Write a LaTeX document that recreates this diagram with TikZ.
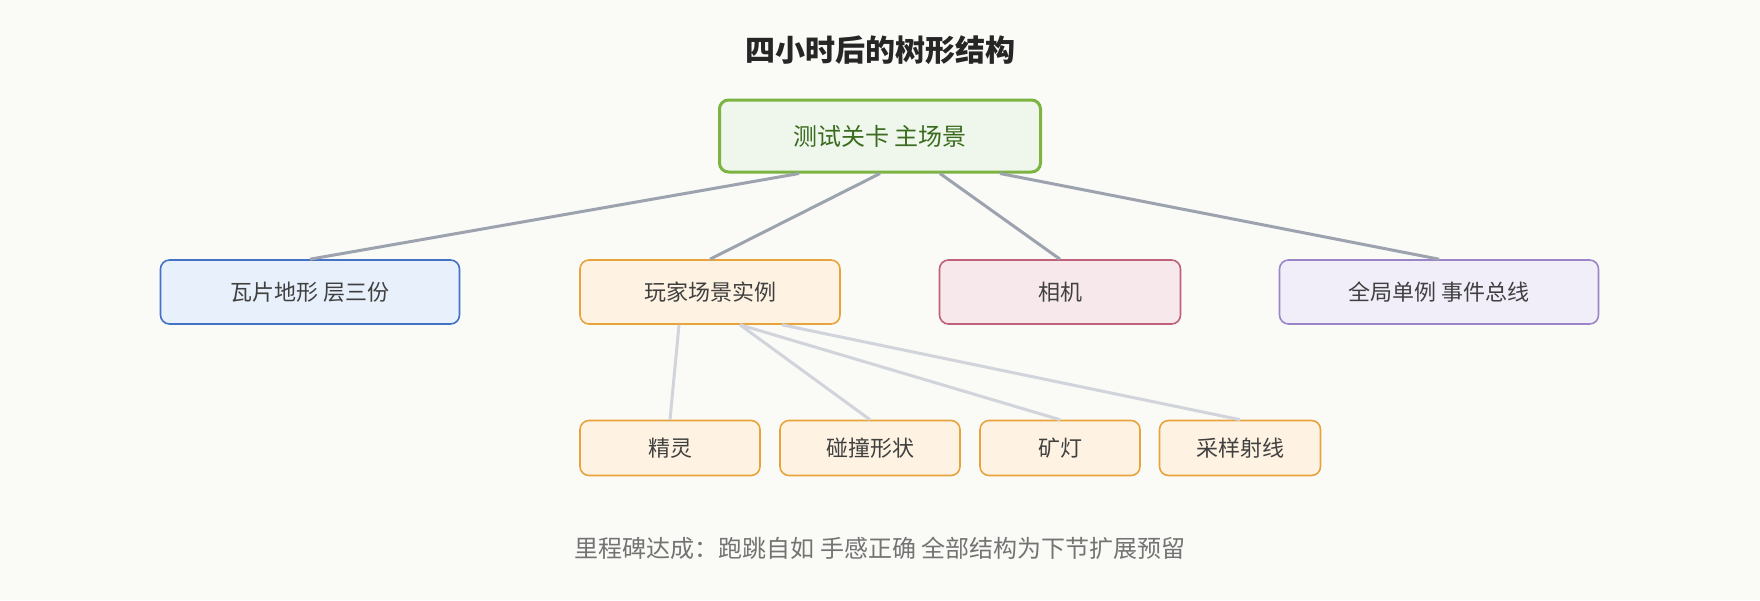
\documentclass[tikz,border=0pt]{standalone}
\usepackage{fontspec}
\setmainfont{Noto Sans CJK SC}
\usetikzlibrary{positioning, calc}
\definecolor{bg}{HTML}{FAFAF6}
\definecolor{edgeA}{HTML}{9CA3AF}
\definecolor{edgeB}{HTML}{D1D5DB}
\definecolor{greenD}{HTML}{7CB342}
\definecolor{greenF}{HTML}{EFF6EC}
\definecolor{greenT}{HTML}{3A6B1E}
\definecolor{blueD}{HTML}{4472C4}
\definecolor{blueF}{HTML}{E8F0FB}
\definecolor{orangeD}{HTML}{E8A33D}
\definecolor{orangeF}{HTML}{FEF3E2}
\definecolor{pinkD}{HTML}{C0607A}
\definecolor{pinkF}{HTML}{F7E8EC}
\definecolor{violetD}{HTML}{9A86C6}
\definecolor{violetF}{HTML}{F1EEFA}
\tikzset{
  box/.style={draw, rounded corners=9pt, line width=1.6pt, align=center, inner sep=0pt, font=\fontsize{22}{26}\selectfont, text=black!75},
  root/.style={box, draw=greenD, fill=greenF, line width=3pt, minimum width=321pt, minimum height=72pt, text=greenT, font=\fontsize{24}{28}\selectfont},
  blue/.style={box, draw=blueD, fill=blueF, minimum height=64pt},
  orange/.style={box, draw=orangeD, fill=orangeF, minimum height=64pt},
  pink/.style={box, draw=pinkD, fill=pinkF, minimum height=64pt},
  violet/.style={box, draw=violetD, fill=violetF, minimum height=64pt},
  leaf/.style={orange, minimum height=55pt},
  main/.style={draw=edgeA, line width=3pt},
  sub/.style={draw=edgeB, line width=3pt}
}
\begin{document}
\begin{tikzpicture}[x=1pt, y=1pt]
    \fill[bg] (0,0) rectangle (1760,-600);
    \useasboundingbox (0,0) rectangle (1760,-600);
    \node[font=\fontsize{30}{34}\selectfont\bfseries, text=black!85] (title) at (880,-50) {四小时后的树形结构};
    \node[root] (scene) at (880,-136) {测试关卡 主场景};
    \node[blue, minimum width=299pt] (tiles) at (310,-292) {瓦片地形 层三份};
    \node[orange, minimum width=260pt] (player) at (710,-292) {玩家场景实例};
    \node[pink, minimum width=241pt] (camera) at (1060,-292) {相机};
    \node[violet, minimum width=319pt] (bus) at (1439,-292) {全局单例 事件总线};
    \node[leaf, minimum width=180pt] (sprite) at (670,-448) {精灵};
    \node[leaf, minimum width=180pt] (shape) at (870,-448) {碰撞形状};
    \node[leaf, minimum width=160pt] (lamp) at (1060,-448) {矿灯};
    \node[leaf, minimum width=161pt] (ray) at (1240,-448) {采样射线};
    \node[text=black!55, font=\fontsize{24}{28}\selectfont] (note) at (880,-548) {里程碑达成：跑跳自如 手感正确 全部结构为下节扩展预留};

    % top level
    \draw[main] ($(scene.south)+(-81,0)$) -- (tiles.north);
    \draw[main] (scene.south) -- (player.north);
    \draw[main] ($(scene.south)+(60,0)$) -- (camera.north);
    \draw[main] ($(scene.south)+(120,0)$) -- (bus.north);
    % player children
    \draw[sub] ($(player.south)+(-31,0)$) -- (sprite.north);
    \draw[sub] ($(player.south)+(30,0)$) -- (shape.north);
    \draw[sub] ($(player.south)+(30,0)$) -- (lamp.north);
    \draw[sub] ($(player.south)+(72,0)$) -- (ray.north);
\end{tikzpicture}
\end{document}
